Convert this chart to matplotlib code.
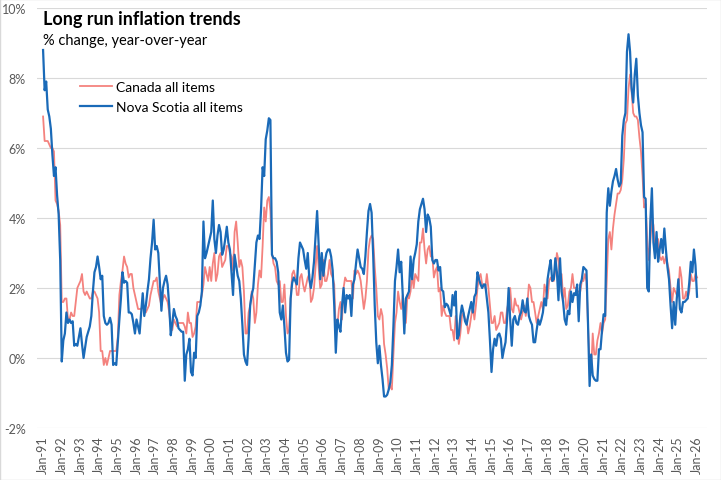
import matplotlib
matplotlib.use("Agg")
import matplotlib.pyplot as plt
from matplotlib.ticker import FuncFormatter
from matplotlib.patches import Rectangle
import pandas as pd

plt.rcParams['font.family'] = ['Lato', 'DejaVu Sans']

# monthly year-over-year % change, Jan 1991 .. Jan 2026
canada = [
    6.9, 6.2, 6.2, 6.2, 6.1, 6.0, 6.0, 5.9, 4.5, 4.4, 4.2, 3.8,    # 1991
    1.6, 1.6, 1.7, 1.7, 1.1, 1.1, 1.3, 1.2, 1.2, 1.6, 2.0, 2.1,    # 1992
    2.2, 2.4, 1.9, 1.8, 1.9, 1.8, 1.7, 1.7, 1.9, 1.9, 1.8, 1.7,    # 1993
    1.3, 0.2, 0.2, -0.2, 0.0, -0.2, 0.0, 0.2, 0.2, 0.2, 0.2, 0.2,  # 1994
    0.6, 1.8, 2.2, 2.5, 2.9, 2.7, 2.6, 2.3, 2.4, 2.4, 2.0, 1.8,    # 1995
    1.6, 1.4, 1.4, 1.4, 1.5, 1.4, 1.3, 1.4, 1.5, 1.8, 2.0, 2.2,    # 1996
    2.2, 2.3, 1.9, 1.7, 1.5, 1.7, 1.8, 1.7, 1.6, 1.3, 0.9, 0.8,    # 1997
    1.1, 1.0, 0.9, 1.0, 1.0, 1.0, 1.0, 0.9, 0.7, 1.3, 1.0, 1.0,    # 1998
    0.6, 0.7, 0.9, 1.6, 1.6, 1.6, 1.8, 2.1, 2.6, 2.4, 2.2, 2.6,    # 1999
    2.2, 2.7, 3.0, 2.2, 2.4, 2.9, 3.0, 2.6, 2.7, 2.8, 3.2, 3.2,    # 2000
    3.0, 2.9, 2.5, 3.6, 3.9, 3.3, 2.6, 2.8, 2.6, 1.9, 0.7, 0.7,    # 2001
    1.3, 1.5, 1.9, 1.7, 1.0, 1.3, 2.1, 2.5, 2.3, 3.2, 4.3, 3.9,    # 2002
    4.5, 4.6, 4.2, 3.0, 2.7, 2.6, 2.2, 2.1, 2.2, 1.6, 1.6, 2.1,    # 2003
    1.2, 0.7, 0.8, 1.7, 2.4, 2.5, 2.3, 1.8, 1.8, 2.3, 2.4, 2.1,    # 2004
    1.9, 2.1, 2.3, 2.4, 1.6, 1.7, 2.0, 2.6, 3.2, 2.6, 2.0, 2.1,    # 2005
    2.8, 2.2, 2.2, 2.4, 2.8, 2.4, 2.3, 2.1, 0.7, 0.9, 1.4, 1.6,    # 2006
    1.1, 2.0, 2.3, 2.2, 2.2, 2.2, 2.2, 1.7, 2.5, 2.4, 2.5, 2.4,    # 2007
    2.2, 1.8, 1.4, 1.7, 2.2, 3.1, 3.4, 3.5, 3.4, 2.6, 2.0, 1.2,    # 2008
    1.1, 1.4, 1.2, 0.4, 0.1, -0.3, -0.9, -0.8, -0.9, 0.1, 1.0, 1.3,  # 2009
    1.9, 1.6, 1.4, 1.8, 1.4, 1.0, 1.8, 1.7, 1.9, 2.4, 2.0, 2.4,    # 2010
    2.3, 2.2, 3.3, 3.3, 3.7, 3.1, 2.7, 3.1, 3.2, 2.9, 2.9, 2.3,    # 2011
    2.5, 2.6, 1.9, 2.0, 1.2, 1.5, 1.3, 1.2, 1.2, 1.2, 0.8, 0.8,    # 2012
    0.5, 1.2, 1.0, 0.4, 0.7, 1.2, 1.3, 1.1, 1.1, 0.7, 0.9, 1.2,    # 2013
    1.5, 1.1, 1.5, 2.0, 2.3, 2.4, 2.1, 2.1, 2.0, 2.4, 2.0, 1.5,    # 2014
    1.0, 1.0, 1.2, 0.8, 0.9, 1.0, 1.3, 1.3, 1.0, 1.0, 1.4, 1.6,    # 2015
    2.0, 1.4, 1.3, 1.7, 1.5, 1.5, 1.3, 1.1, 1.3, 1.5, 1.2, 1.5,    # 2016
    2.1, 2.0, 1.6, 1.6, 1.3, 1.0, 1.2, 1.4, 1.6, 1.4, 2.1, 1.9,    # 2017
    1.7, 2.2, 2.3, 2.2, 2.2, 2.5, 3.0, 2.8, 2.2, 2.4, 1.7, 2.0,    # 2018
    1.4, 1.5, 1.9, 2.0, 2.4, 2.0, 2.0, 1.9, 1.9, 1.9, 2.2, 2.2,    # 2019
    2.4, 2.2, 0.9, -0.2, -0.4, 0.7, 0.1, 0.1, 0.5, 0.7, 1.0, 0.7,  # 2020
    1.0, 1.1, 2.2, 3.4, 3.6, 3.1, 3.7, 4.1, 4.4, 4.7, 4.7, 4.8,    # 2021
    5.1, 5.7, 6.7, 6.8, 7.7, 8.1, 7.6, 7.0, 6.9, 6.9, 6.8, 6.3,    # 2022
    5.9, 5.2, 4.3, 4.4, 3.4, 2.8, 3.3, 4.0, 3.8, 3.1, 3.1, 3.4,    # 2023
    2.9, 2.8, 2.9, 2.7, 2.9, 2.7, 2.5, 2.0, 1.6, 2.0, 1.9, 1.8,    # 2024
    1.9, 2.6, 2.3, 1.7, 1.7, 1.9, 1.7, 1.9, 2.4, 2.2, 2.2, 2.4,    # 2025
    2.3,                                                            # 2026
]

nova_scotia = [
    8.8, 7.65, 7.9, 7.1, 6.9, 6.55, 5.8, 5.2, 5.45, 4.65, 4.1, 2.8,     # 1991
    -0.1, 0.5, 0.7, 1.3, 1.0, 1.1, 1.0, 1.05, 0.35, 0.4, 0.35, 0.6,     # 1992
    0.85, 0.4, 0.0, 0.3, 0.6, 0.75, 0.9, 1.2, 1.9, 2.45, 2.6, 2.9,      # 1993
    2.6, 2.25, 2.35, 1.2, 1.0, 0.95, 1.0, 1.15, 0.95, -0.2, -0.15, -0.2,  # 1994
    0.45, 1.1, 1.7, 2.45, 2.15, 2.2, 2.15, 1.3, 1.3, 1.25, 1.0, 0.7,    # 1995
    1.1, 0.9, 0.7, 1.3, 1.85, 1.2, 1.5, 1.9, 2.25, 2.85, 3.3, 3.95,     # 1996
    3.1, 3.2, 3.0, 2.2, 1.35, 2.0, 2.2, 2.35, 2.1, 1.5, 0.65, 1.0,      # 1997
    1.4, 1.2, 1.1, 0.85, 0.8, 0.75, 0.75, -0.65, 0.1, 0.25, 0.55, -0.4,  # 1998
    -0.5, 0.15, 0.0, 1.2, 1.3, 1.5, 1.9, 3.9, 2.85, 3.0, 3.2, 3.4,      # 1999
    3.6, 4.5, 3.4, 3.0, 3.5, 3.8, 3.6, 2.95, 3.1, 3.4, 3.75, 3.3,       # 2000
    3.1, 2.45, 1.8, 2.95, 2.65, 2.35, 2.2, 1.7, 0.95, 0.1, -0.1, -0.2,  # 2001
    0.55, 1.5, 1.8, 2.0, 2.65, 3.3, 3.5, 3.4, 4.25, 5.45, 5.2, 6.25,    # 2002
    6.5, 6.85, 6.8, 2.95, 2.85, 2.85, 2.75, 2.45, 1.3, 1.1, 1.5, 0.9,   # 2003
    0.15, -0.1, -0.05, 1.7, 2.15, 2.3, 2.2, 2.1, 2.85, 3.3, 3.2, 3.1,   # 2004
    2.8, 2.55, 3.0, 2.25, 2.0, 2.3, 2.75, 3.5, 4.2, 3.2, 2.25, 3.0,     # 2005
    2.35, 2.75, 3.0, 3.1, 3.1, 2.9, 2.5, 1.5, 0.15, 1.1, 0.9, 0.75,     # 2006
    1.5, 2.0, 1.3, 1.8, 1.7, 1.8, 1.2, 2.1, 2.25, 2.7, 3.1, 2.85,       # 2007
    2.6, 2.55, 2.4, 2.9, 3.6, 4.2, 4.4, 4.15, 2.95, 1.5, 0.45, -0.15,   # 2008
    0.35, -0.2, -0.6, -1.1, -1.1, -1.05, -0.9, -0.7, -0.2, 0.9, 2.2, 2.6,  # 2009
    3.1, 2.45, 2.75, 1.8, 0.7, 1.7, 1.8, 1.9, 2.9, 2.25, 2.8, 3.0,      # 2010
    3.25, 3.9, 4.25, 4.4, 4.55, 4.25, 3.6, 4.1, 4.0, 3.75, 2.8, 2.7,    # 2011
    2.8, 2.8, 2.5, 2.6, 1.95, 1.9, 1.45, 1.55, 1.5, 1.35, 1.2, 1.8,     # 2012
    1.5, 1.9, 0.55, 0.65, 1.2, 1.5, 1.3, 1.05, 0.95, 1.2, 1.4, 1.6,     # 2013
    1.3, 1.75, 1.85, 2.45, 2.25, 2.1, 2.0, 2.1, 2.1, 1.7, 1.3, 0.5,     # 2014
    -0.4, 0.25, 0.55, 0.35, 0.65, 0.7, 0.55, 0.0, 0.25, 0.45, 1.1, 2.0,  # 2015
    1.1, 0.35, 1.1, 1.2, 1.0, 0.95, 1.2, 1.3, 1.65, 1.35, 1.3, 1.7,     # 2016
    1.2, 1.05, 0.95, 0.45, 0.45, 0.8, 1.1, 0.95, 1.1, 1.3, 1.7, 1.5,    # 2017
    2.25, 2.55, 2.8, 2.2, 2.25, 2.85, 2.45, 1.65, 2.85, 1.9, 1.6, 1.1,  # 2018
    0.95, 1.35, 1.25, 1.9, 1.6, 1.85, 1.8, 2.1, 1.05, 2.1, 2.25, 2.6,   # 2019
    2.55, 2.5, 0.95, -0.8, 0.1, -0.5, -0.6, -0.65, -0.65, 0.25, 0.25, 0.8,  # 2020
    1.25, 1.2, 4.15, 4.85, 4.35, 4.75, 5.05, 5.2, 5.4, 5.1, 4.9, 5.0,   # 2021
    6.35, 6.8, 7.0, 8.75, 9.25, 8.75, 7.7, 7.3, 8.1, 8.55, 7.5, 7.0,    # 2022
    6.65, 6.45, 4.6, 4.55, 2.0, 1.9, 3.9, 4.85, 3.3, 2.85, 3.6, 2.75,   # 2023
    3.1, 3.4, 3.0, 3.7, 3.1, 2.6, 2.25, 1.5, 0.85, 1.6, 0.95, 1.7,      # 2024
    2.25, 1.4, 1.3, 1.6, 1.6, 1.65, 1.7, 2.15, 2.75, 2.45, 3.1, 2.65,   # 2025
    1.75,                                                                # 2026
]

months = pd.date_range("1991-01-01", periods=len(canada), freq="MS")
tick_pos = [i for i, d in enumerate(months) if d.month == 1]
tick_labels = [months[i].strftime("%b-%y") for i in tick_pos]

fig = plt.figure(figsize=(7.21, 4.81), dpi=100)
ax = fig.add_axes([37 / 721, 1 - 429 / 481, 670 / 721, 420 / 481])

x = list(range(len(canada)))
ax.plot(x, canada, color='#F4827E', linewidth=1.3, label='Canada all items')
ax.plot(x, nova_scotia, color='#1A6AB8', linewidth=1.6, label='Nova Scotia all items')

ax.set_ylim(-2, 10)
ax.set_yticks(range(-2, 11, 2))
ax.yaxis.set_major_formatter(FuncFormatter(lambda v, p: f"{v:.0f}%"))
ax.set_xlim(-3.9, 426.4)
ax.set_xticks(tick_pos)
ax.set_xticklabels(tick_labels, rotation=90)
ax.tick_params(axis='both', length=0, colors='#595959', labelsize=9)
ax.tick_params(axis='y', pad=8)
ax.tick_params(axis='x', pad=5)
ax.grid(axis='y', color='#D9D9D9', linewidth=0.8)
ax.set_axisbelow(True)
for s in ax.spines.values():
    s.set_visible(False)

fig.text(43 / 721, 1 - 20 / 481, "Long run inflation trends", fontsize=13,
         fontweight='bold', va='center', ha='left', color='#000000')
fig.text(43 / 721, 1 - 41 / 481, "% change, year-over-year", fontsize=10.5,
         va='center', ha='left', color='#000000')

ax.legend(loc='upper left', bbox_to_anchor=(80 / 721, 1 - 82 / 481),
          bbox_transform=fig.transFigure, frameon=False, fontsize=10,
          handlelength=2.3, handletextpad=0.3, labelspacing=0.55,
          borderpad=0, borderaxespad=0)

fig.patches.append(Rectangle((0, 0), 1, 1, transform=fig.transFigure,
                             fill=False, edgecolor='#D9D9D9', linewidth=1))

fig.savefig("out.png", dpi=100)
